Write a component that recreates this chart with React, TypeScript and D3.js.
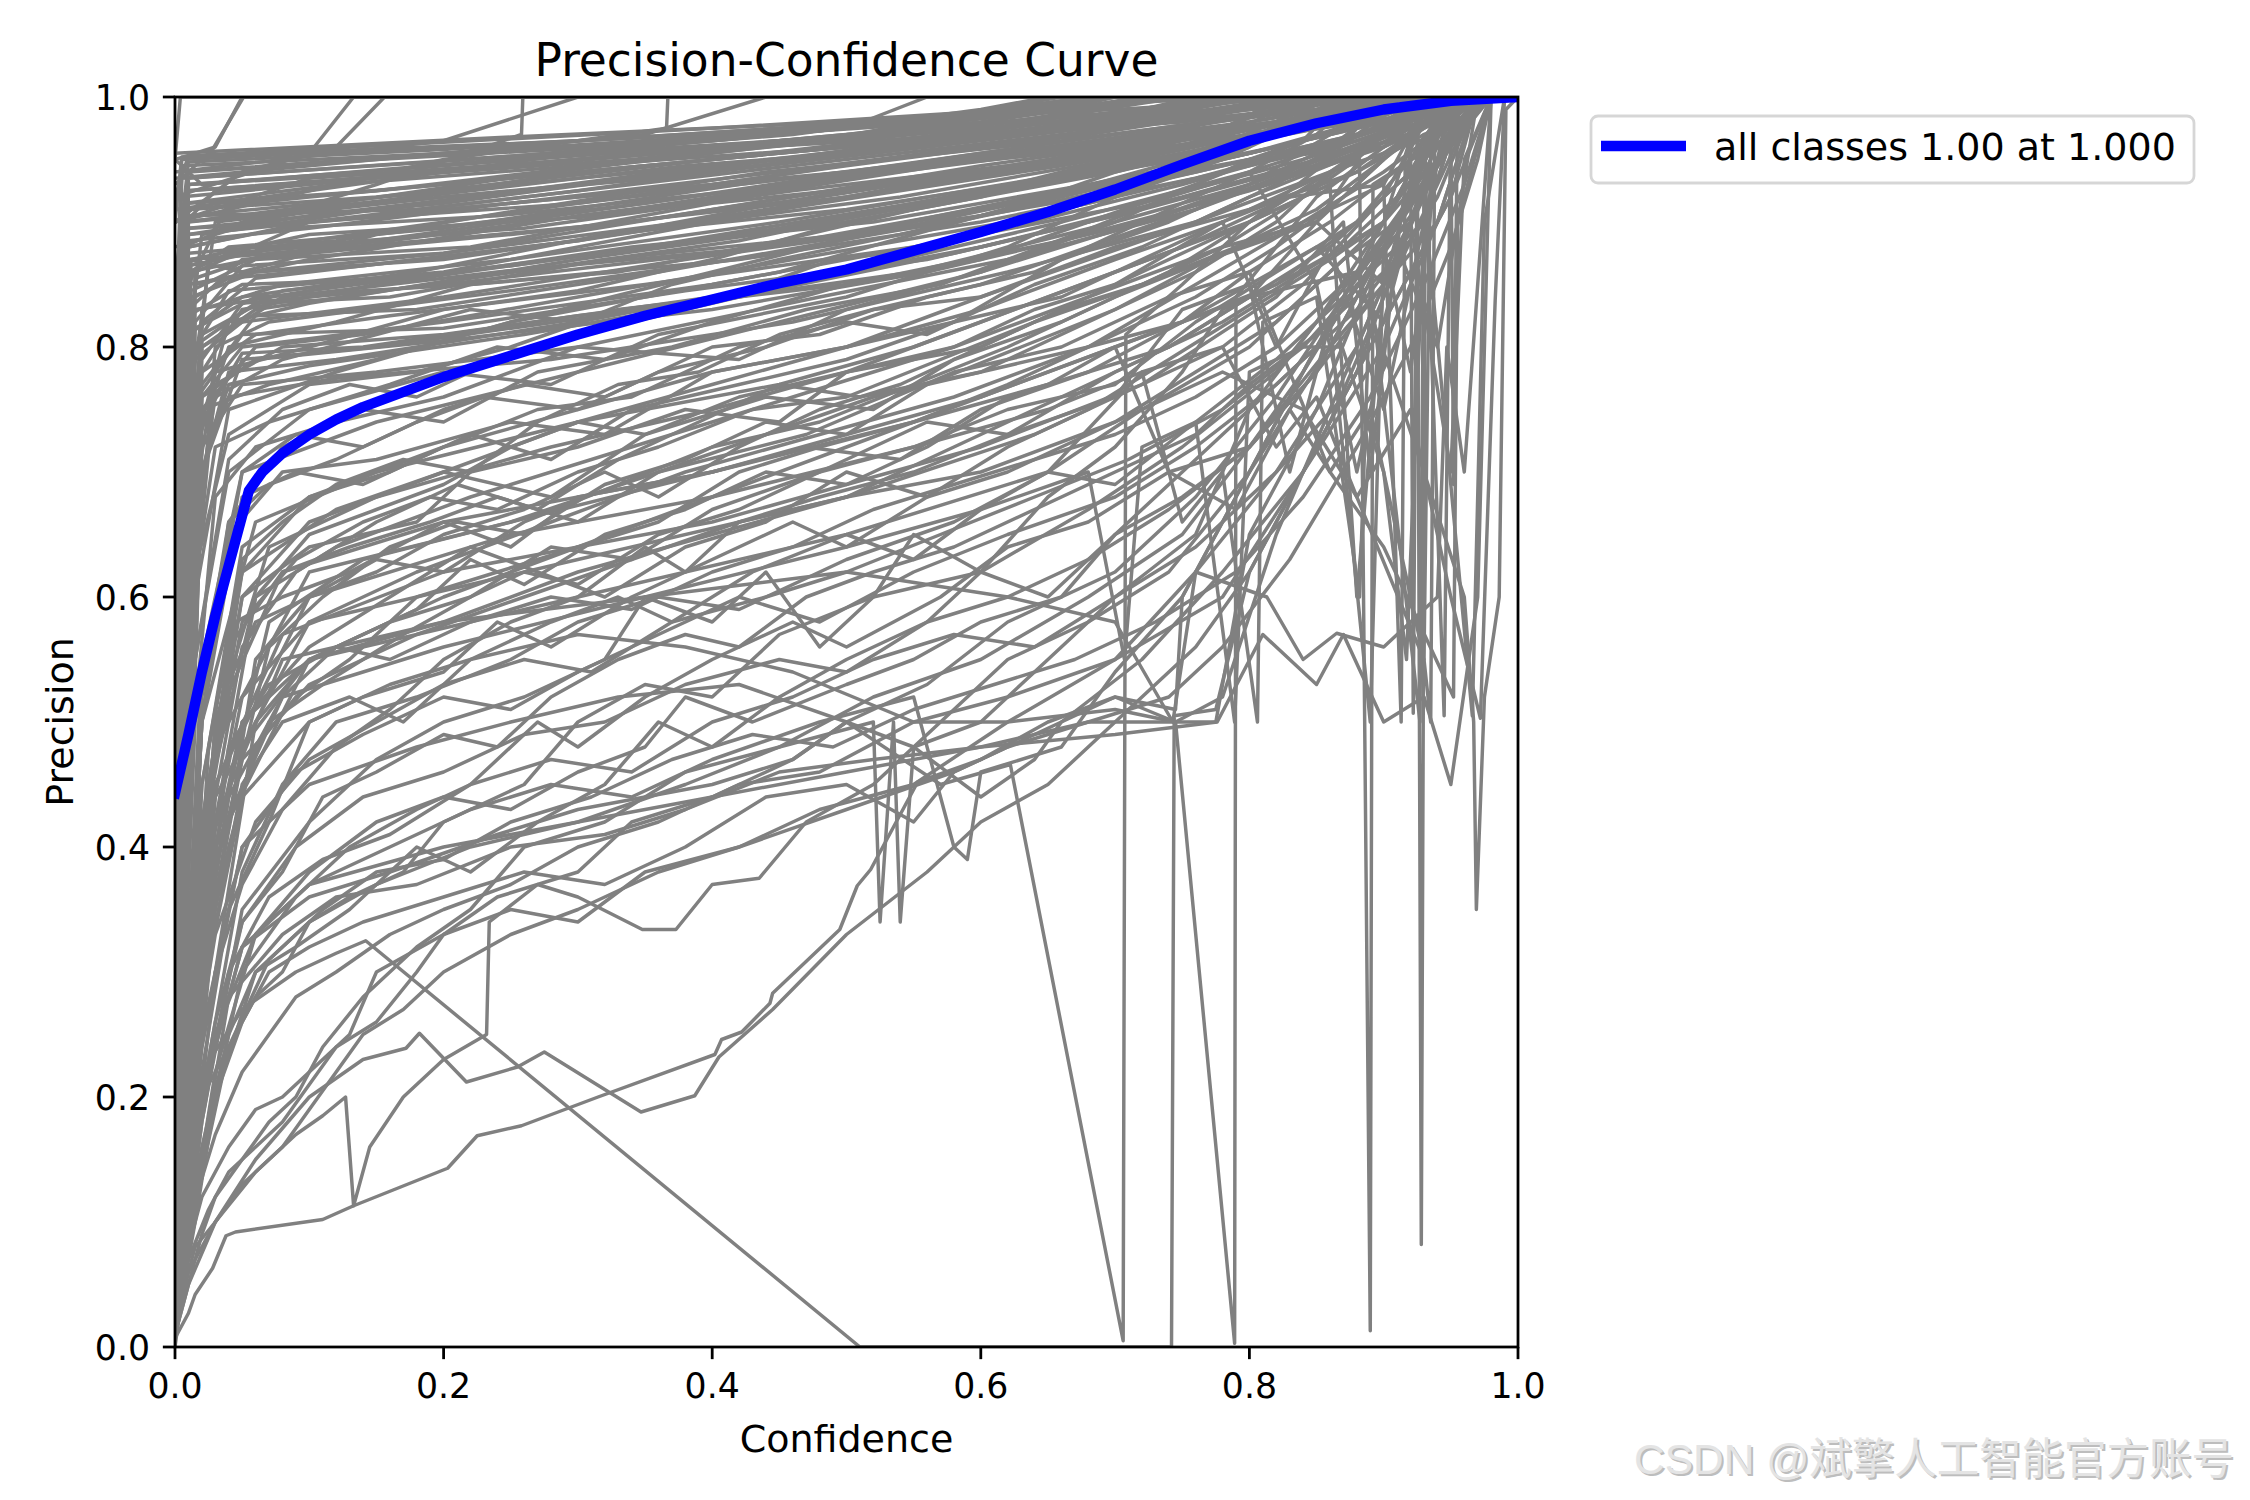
import React from 'react';
import * as d3 from 'd3';

// ---------- figure geometry ----------
const W = 2250;
const H = 1500;
const AX = { left: 175, right: 1518, top: 97, bottom: 1347 };

// ---------- tick labels ----------
const xTicks = [0, 0.2, 0.4, 0.6, 0.8, 1.0];
const yTicks = [0, 0.2, 0.4, 0.6, 0.8, 1.0];

// ---------- "all classes" mean curve (blue) ----------
const allConf = [0, 0.01, 0.02, 0.03, 0.04, 0.05, 0.055, 0.065, 0.08, 0.1, 0.12, 0.14, 0.17, 0.2, 0.25, 0.3, 0.35, 0.4, 0.45, 0.5, 0.55, 0.6, 0.65, 0.7, 0.75, 0.8, 0.85, 0.9, 0.95, 1.0];
const allPrecision = [0.443, 0.49, 0.54, 0.585, 0.625, 0.665, 0.685, 0.7, 0.715, 0.73, 0.742, 0.752, 0.764, 0.776, 0.793, 0.81, 0.825, 0.838, 0.851, 0.862, 0.877, 0.892, 0.908, 0.926, 0.946, 0.965, 0.979, 0.99, 0.997, 1.0];

// ---------- per-class curves (flat lists of conf, precision pairs) ----------
const topBundle: number[][] = [
  [0, 0.955, 0.25, 0.968, 0.5, 0.98, 0.7, 0.99, 0.85, 1, 1, 1],
  [0, 0.95, 0.02, 0.93, 0.3, 0.955, 0.6, 0.975, 0.8, 0.99, 0.9, 1, 1, 1],
  [0, 0.5, 0.008, 0.9, 0.03, 0.925, 0.35, 0.955, 0.6, 0.97, 0.85, 0.99, 0.92, 1, 1, 1],
  [0, 0.4, 0.01, 0.85, 0.04, 0.915, 0.2, 0.93, 0.5, 0.96, 0.75, 0.98, 0.9, 1, 1, 1],
  [0, 0.6, 0.006, 0.88, 0.05, 0.9, 0.3, 0.94, 0.55, 0.965, 0.8, 0.99, 0.88, 1, 1, 1],
  [0, 0.3, 0.01, 0.8, 0.02, 0.89, 0.15, 0.91, 0.4, 0.945, 0.65, 0.975, 0.82, 0.995, 0.86, 1, 1, 1],
  [0, 0.7, 0.004, 0.92, 0.1, 0.93, 0.4, 0.96, 0.6, 0.98, 0.72, 1, 1, 1],
  [0, 0.2, 0.01, 0.7, 0.025, 0.87, 0.1, 0.885, 0.3, 0.915, 0.5, 0.94, 0.7, 0.97, 0.85, 0.99, 0.93, 1, 1, 1],
  [0, 0.45, 0.01, 0.86, 0.08, 0.875, 0.25, 0.9, 0.45, 0.93, 0.7, 0.965, 0.9, 0.99, 0.95, 1, 1, 1],
  [0, 0.55, 0.012, 0.84, 0.06, 0.86, 0.2, 0.875, 0.4, 0.91, 0.6, 0.945, 0.8, 0.975, 0.9, 0.99, 0.96, 1, 1, 1],
  [0, 0.35, 0.015, 0.8, 0.04, 0.845, 0.2, 0.86, 0.4, 0.9, 0.55, 0.93, 0.75, 0.96, 0.87, 0.985, 0.9, 1, 1, 1],
  [0, 0.25, 0.02, 0.78, 0.05, 0.83, 0.15, 0.85, 0.35, 0.88, 0.55, 0.915, 0.75, 0.95, 0.85, 0.98, 0.91, 1, 1, 1],
  [0, 0.65, 0.01, 0.895, 0.2, 0.915, 0.45, 0.95, 0.62, 0.975, 0.78, 1, 1, 1],
  [0, 0.15, 0.02, 0.74, 0.04, 0.82, 0.1, 0.835, 0.3, 0.87, 0.5, 0.9, 0.7, 0.94, 0.82, 0.97, 0.95, 0.99, 0.97, 1, 1, 1],
  [0, 0.5, 0.01, 0.905, 0.3, 0.935, 0.55, 0.96, 0.7, 0.985, 0.8, 1, 1, 1],
  [0, 0.1, 0.015, 0.6, 0.03, 0.8, 0.07, 0.82, 0.25, 0.845, 0.45, 0.875, 0.65, 0.92, 0.8, 0.955, 0.9, 0.98, 0.94, 1, 1, 1],
  [0, 0.75, 0.005, 0.94, 0.2, 0.955, 0.45, 0.972, 0.65, 0.99, 0.75, 1, 1, 1],
  [0, 0.6, 0.01, 0.87, 0.05, 0.86, 0.15, 0.89, 0.35, 0.915, 0.6, 0.955, 0.8, 0.985, 0.87, 1, 1, 1],
  [0, 0.3, 0.02, 0.82, 0.06, 0.855, 0.3, 0.885, 0.5, 0.925, 0.65, 0.95, 0.78, 0.975, 0.84, 1, 1, 1],
  [0, 0.2, 0.02, 0.76, 0.05, 0.8, 0.2, 0.82, 0.4, 0.85, 0.6, 0.89, 0.75, 0.93, 0.85, 0.96, 0.95, 0.99, 0.98, 1, 1, 1],
  [0, 0.4, 0.01, 0.88, 0.1, 0.9, 0.3, 0.925, 0.5, 0.955, 0.68, 0.98, 0.76, 1, 1, 1],
  [0, 0.85, 0.01, 0.94, 0.15, 0.95, 0.4, 0.965, 0.55, 0.98, 0.68, 1, 1, 1],
  [0, 0.5, 0.015, 0.85, 0.1, 0.87, 0.3, 0.905, 0.45, 0.925, 0.6, 0.95, 0.75, 0.97, 0.92, 0.995, 0.94, 1, 1, 1],
  [0, 0.12, 0.01, 0.55, 0.03, 0.77, 0.08, 0.8, 0.2, 0.81, 0.4, 0.84, 0.6, 0.88, 0.75, 0.92, 0.85, 0.95, 0.93, 0.98, 0.97, 1, 1, 1],
  [0, 0.7, 0.01, 0.91, 0.1, 0.92, 0.35, 0.945, 0.6, 0.97, 0.77, 0.99, 0.83, 1, 1, 1],
  [0, 0.45, 0.02, 0.83, 0.08, 0.85, 0.25, 0.87, 0.45, 0.9, 0.7, 0.945, 0.85, 0.975, 0.89, 1, 1, 1],
  [0, 0.05, 0.01, 0.4, 0.02, 0.7, 0.05, 0.79, 0.15, 0.8, 0.35, 0.83, 0.55, 0.86, 0.7, 0.9, 0.8, 0.93, 0.9, 0.97, 0.95, 1, 1, 1],
  [0, 0.9, 0.1, 0.935, 0.3, 0.95, 0.5, 0.965, 0.7, 0.985, 0.82, 1, 1, 1],
  [0, 0.35, 0.012, 0.86, 0.04, 0.88, 0.2, 0.895, 0.42, 0.93, 0.65, 0.96, 0.8, 0.98, 0.9, 1, 1, 1],
  [0, 0.55, 0.008, 0.9, 0.12, 0.915, 0.28, 0.94, 0.48, 0.965, 0.58, 0.985, 0.66, 1, 1, 1],
  [0, 0.2, 0.01, 0.75, 0.03, 0.9, 0.2, 0.92, 0.4, 0.94, 0.6, 0.97, 0.75, 0.99, 0.8, 1, 1, 1],
  [0, 0.45, 0.02, 0.8, 0.06, 0.83, 0.22, 0.855, 0.42, 0.885, 0.6, 0.925, 0.76, 0.96, 0.86, 0.985, 0.9, 1, 1, 1],
  [0, 0.3, 0.01, 0.83, 0.05, 0.87, 0.25, 0.89, 0.5, 0.92, 0.7, 0.955, 0.85, 0.985, 0.92, 1, 1, 1],
  [0, 0.6, 0.01, 0.93, 0.25, 0.945, 0.5, 0.97, 0.66, 0.99, 0.7, 1, 1, 1],
  [0, 0.1, 0.02, 0.7, 0.04, 0.78, 0.12, 0.79, 0.3, 0.82, 0.5, 0.86, 0.66, 0.9, 0.8, 0.94, 0.9, 0.975, 0.96, 1, 1, 1],
  [0, 0.5, 0.01, 0.81, 0.05, 0.84, 0.18, 0.86, 0.32, 0.89, 0.5, 0.91, 0.68, 0.94, 0.82, 0.97, 0.88, 0.99, 0.9, 1, 1, 1],
  [0, 0.4, 0.01, 0.89, 0.1, 0.905, 0.3, 0.93, 0.52, 0.955, 0.7, 0.98, 0.8, 1, 1, 1],
  [0, 0.25, 0.015, 0.79, 0.05, 0.82, 0.2, 0.84, 0.38, 0.87, 0.58, 0.9, 0.76, 0.94, 0.88, 0.97, 0.93, 0.99, 0.95, 1, 1, 1],
  [0, 0.7, 0.005, 0.945, 0.3, 0.96, 0.55, 0.978, 0.7, 0.995, 0.76, 1, 1, 1],
  [0, 0.15, 0.02, 0.72, 0.05, 0.77, 0.15, 0.78, 0.3, 0.8, 0.48, 0.84, 0.62, 0.87, 0.76, 0.91, 0.86, 0.95, 0.93, 0.98, 0.97, 1, 1, 1],
];

const topBundleB: number[][] = [
  [0, 0.3, 0.01, 0.93, 0.2, 0.945, 0.45, 0.965, 0.62, 0.98, 0.74, 1, 1, 1],
  [0, 0.62, 0.01, 0.915, 0.15, 0.925, 0.35, 0.95, 0.58, 0.975, 0.72, 0.99, 0.79, 1, 1, 1],
  [0, 0.2, 0.015, 0.86, 0.1, 0.9, 0.3, 0.92, 0.55, 0.945, 0.75, 0.975, 0.88, 1, 1, 1],
  [0, 0.48, 0.01, 0.875, 0.12, 0.885, 0.26, 0.91, 0.44, 0.94, 0.66, 0.965, 0.84, 0.99, 0.87, 1, 1, 1],
  [0, 0.1, 0.02, 0.81, 0.08, 0.845, 0.25, 0.865, 0.45, 0.895, 0.65, 0.935, 0.8, 0.965, 0.9, 0.99, 0.93, 1, 1, 1],
  [0, 0.55, 0.008, 0.925, 0.2, 0.94, 0.42, 0.96, 0.6, 0.98, 0.7, 0.995, 0.73, 1, 1, 1],
  [0, 0.35, 0.012, 0.845, 0.06, 0.87, 0.22, 0.88, 0.4, 0.915, 0.58, 0.935, 0.74, 0.96, 0.86, 0.98, 0.92, 1, 1, 1],
  [0, 0.15, 0.02, 0.77, 0.06, 0.825, 0.18, 0.83, 0.36, 0.86, 0.52, 0.89, 0.68, 0.92, 0.8, 0.95, 0.9, 0.975, 0.95, 1, 1, 1],
  [0, 0.7, 0.006, 0.9, 0.18, 0.92, 0.38, 0.945, 0.56, 0.96, 0.7, 0.98, 0.81, 1, 1, 1],
  [0, 0.25, 0.015, 0.82, 0.05, 0.865, 0.2, 0.875, 0.38, 0.9, 0.56, 0.93, 0.72, 0.955, 0.85, 0.985, 0.89, 1, 1, 1],
  [0, 0.42, 0.01, 0.895, 0.1, 0.9, 0.3, 0.915, 0.5, 0.945, 0.68, 0.97, 0.8, 0.99, 0.86, 1, 1, 1],
  [0, 0.08, 0.02, 0.75, 0.06, 0.8, 0.14, 0.81, 0.3, 0.84, 0.46, 0.87, 0.62, 0.9, 0.76, 0.935, 0.88, 0.97, 0.94, 0.99, 0.97, 1, 1, 1],
  [0, 0.6, 0.01, 0.935, 0.28, 0.955, 0.46, 0.97, 0.6, 0.99, 0.65, 1, 1, 1],
  [0, 0.3, 0.01, 0.865, 0.08, 0.88, 0.26, 0.895, 0.46, 0.925, 0.62, 0.945, 0.78, 0.97, 0.88, 0.99, 0.91, 1, 1, 1],
  [0, 0.5, 0.01, 0.86, 0.04, 0.875, 0.16, 0.885, 0.34, 0.91, 0.52, 0.94, 0.7, 0.96, 0.84, 0.98, 0.9, 1, 1, 1],
  [0, 0.18, 0.02, 0.79, 0.05, 0.835, 0.2, 0.85, 0.4, 0.875, 0.6, 0.905, 0.74, 0.94, 0.86, 0.97, 0.94, 1, 1, 1],
  [0, 0.65, 0.01, 0.925, 0.14, 0.935, 0.34, 0.95, 0.52, 0.97, 0.66, 0.985, 0.75, 1, 1, 1],
  [0, 0.38, 0.012, 0.87, 0.1, 0.89, 0.32, 0.905, 0.5, 0.935, 0.72, 0.965, 0.85, 0.985, 0.9, 1, 1, 1],
  [0, 0.12, 0.02, 0.78, 0.06, 0.81, 0.16, 0.825, 0.35, 0.85, 0.55, 0.88, 0.72, 0.915, 0.84, 0.95, 0.92, 0.98, 0.96, 1, 1, 1],
  [0, 0.72, 0.005, 0.935, 0.22, 0.95, 0.5, 0.975, 0.64, 0.99, 0.7, 1, 1, 1],
  [0, 0.45, 0.01, 0.9, 0.2, 0.92, 0.36, 0.935, 0.56, 0.96, 0.72, 0.98, 0.84, 1, 1, 1],
  [0, 0.28, 0.015, 0.84, 0.04, 0.855, 0.14, 0.865, 0.3, 0.885, 0.48, 0.915, 0.66, 0.945, 0.8, 0.97, 0.9, 0.99, 0.94, 1, 1, 1],
  [0, 0.22, 0.02, 0.8, 0.08, 0.84, 0.24, 0.86, 0.44, 0.88, 0.62, 0.915, 0.78, 0.95, 0.9, 0.98, 0.95, 1, 1, 1],
  [0, 0.58, 0.01, 0.885, 0.1, 0.895, 0.25, 0.915, 0.45, 0.94, 0.63, 0.965, 0.77, 0.985, 0.83, 1, 1, 1],
  [0, 0.05, 0.02, 0.7, 0.04, 0.77, 0.1, 0.785, 0.26, 0.81, 0.42, 0.84, 0.58, 0.875, 0.72, 0.91, 0.84, 0.945, 0.92, 0.975, 0.98, 1, 1, 1],
  [0, 0.52, 0.01, 0.91, 0.15, 0.92, 0.32, 0.94, 0.48, 0.96, 0.62, 0.975, 0.76, 0.995, 0.8, 1, 1, 1],
  [0, 0.33, 0.01, 0.85, 0.06, 0.86, 0.2, 0.87, 0.36, 0.895, 0.54, 0.92, 0.7, 0.95, 0.84, 0.975, 0.92, 0.995, 0.95, 1, 1, 1],
  [0, 0.4, 0.015, 0.83, 0.1, 0.845, 0.28, 0.87, 0.46, 0.895, 0.64, 0.93, 0.78, 0.96, 0.9, 0.985, 0.93, 1, 1, 1],
  [0, 0.8, 0.005, 0.95, 0.2, 0.96, 0.4, 0.97, 0.58, 0.985, 0.68, 1, 1, 1],
  [0, 0.14, 0.02, 0.765, 0.05, 0.81, 0.2, 0.815, 0.38, 0.845, 0.56, 0.87, 0.7, 0.905, 0.82, 0.94, 0.92, 0.97, 0.97, 1, 1, 1],
  [0, 0.48, 0.01, 0.88, 0.08, 0.895, 0.24, 0.905, 0.42, 0.925, 0.6, 0.95, 0.74, 0.97, 0.86, 0.99, 0.88, 1, 1, 1],
  [0, 0.26, 0.015, 0.855, 0.07, 0.875, 0.3, 0.895, 0.48, 0.92, 0.66, 0.95, 0.82, 0.98, 0.9, 1, 1, 1],
  [0, 0.6, 0.01, 0.905, 0.18, 0.91, 0.38, 0.935, 0.54, 0.955, 0.7, 0.975, 0.82, 0.995, 0.85, 1, 1, 1],
  [0, 0.1, 0.02, 0.74, 0.05, 0.795, 0.14, 0.8, 0.3, 0.825, 0.5, 0.85, 0.66, 0.885, 0.8, 0.925, 0.9, 0.96, 0.96, 0.99, 0.98, 1, 1, 1],
  [0, 0.36, 0.01, 0.825, 0.05, 0.85, 0.18, 0.855, 0.34, 0.88, 0.52, 0.9, 0.68, 0.93, 0.82, 0.96, 0.91, 0.985, 0.94, 1, 1, 1],
  [0, 0.55, 0.01, 0.89, 0.2, 0.91, 0.4, 0.93, 0.56, 0.955, 0.68, 0.97, 0.78, 0.99, 0.82, 1, 1, 1],
  [0, 0.2, 0.02, 0.805, 0.06, 0.835, 0.16, 0.84, 0.32, 0.87, 0.5, 0.89, 0.66, 0.925, 0.8, 0.955, 0.9, 0.985, 0.93, 1, 1, 1],
  [0, 0.68, 0.008, 0.915, 0.12, 0.93, 0.3, 0.945, 0.5, 0.96, 0.64, 0.98, 0.74, 1, 1, 1],
  [0, 0.3, 0.015, 0.815, 0.06, 0.84, 0.22, 0.85, 0.42, 0.87, 0.6, 0.9, 0.76, 0.935, 0.88, 0.965, 0.96, 0.99, 0.98, 1, 1, 1],
  [0, 0.45, 0.01, 0.87, 0.14, 0.88, 0.34, 0.9, 0.52, 0.93, 0.7, 0.955, 0.84, 0.975, 0.92, 1, 1, 1],
  [0, 0.9, 0.005, 0.952, 0.3, 0.965, 0.6, 0.985, 0.75, 1, 1, 1],
  [0, 0.85, 0.01, 0.948, 0.2, 0.958, 0.45, 0.975, 0.62, 0.99, 0.7, 1, 1, 1],
  [0, 0.92, 0.01, 0.953, 0.4, 0.975, 0.7, 0.995, 0.8, 1, 1, 1],
  [0, 0.16, 0.02, 0.76, 0.06, 0.79, 0.2, 0.805, 0.4, 0.83, 0.56, 0.86, 0.72, 0.9, 0.84, 0.94, 0.93, 0.975, 0.97, 1, 1, 1],
  [0, 0.07, 0.02, 0.72, 0.04, 0.76, 0.12, 0.775, 0.28, 0.79, 0.46, 0.82, 0.62, 0.86, 0.76, 0.9, 0.86, 0.94, 0.94, 0.97, 0.98, 1, 1, 1],
];

const earlyTop: number[][] = [
  [0, 0.95, 0.03, 0.96, 0.05, 1, 1, 1],
  [0, 0.93, 0.028, 0.958, 0.051, 1, 1, 1],
  [0, 0.9, 0.05, 0.94, 0.12, 0.96, 0.156, 1, 1, 1],
  [0, 0.92, 0.1, 0.955, 0.133, 1, 1, 1],
  [0, 0.88, 0.15, 0.93, 0.258, 0.97, 0.259, 1, 1, 1],
  [0, 0.9, 0.2, 0.95, 0.366, 0.975, 0.367, 1, 1, 1],
  [0, 0.94, 0.2, 0.965, 0.3, 1, 1, 1],
  [0, 0.935, 0.35, 0.97, 0.44, 1, 1, 1],
  [0, 0.95, 0.004, 1, 1, 1],
  [0, 0.91, 0.3, 0.955, 0.5, 0.975, 0.56, 1, 1, 1],
];

const middleCurves: number[][] = [
  [0, 0.1, 0.01, 0.45, 0.03, 0.68, 0.06, 0.72, 0.12, 0.74, 0.2, 0.76, 0.3, 0.8, 0.42, 0.79, 0.5, 0.83, 0.6, 0.86, 0.7, 0.9, 0.8, 0.95, 0.88, 0.98, 0.93, 1, 1, 1],
  [0, 0.08, 0.02, 0.5, 0.04, 0.65, 0.08, 0.7, 0.15, 0.71, 0.25, 0.74, 0.32, 0.73, 0.4, 0.78, 0.5, 0.8, 0.58, 0.82, 0.66, 0.87, 0.74, 0.9, 0.8, 0.93, 0.86, 0.97, 0.9, 1, 1, 1],
  [0, 0.2, 0.01, 0.6, 0.02, 0.75, 0.07, 0.77, 0.15, 0.79, 0.25, 0.82, 0.35, 0.84, 0.45, 0.86, 0.55, 0.89, 0.65, 0.92, 0.75, 0.95, 0.82, 0.98, 0.86, 1, 1, 1],
  [0, 0.05, 0.02, 0.4, 0.05, 0.6, 0.1, 0.64, 0.18, 0.66, 0.22, 0.7, 0.3, 0.72, 0.38, 0.75, 0.45, 0.74, 0.5, 0.78, 0.6, 0.8, 0.7, 0.85, 0.78, 0.9, 0.85, 0.93, 0.9, 0.97, 0.95, 1, 1, 1],
  [0, 0.15, 0.015, 0.55, 0.04, 0.7, 0.1, 0.75, 0.2, 0.78, 0.28, 0.77, 0.36, 0.81, 0.5, 0.84, 0.62, 0.88, 0.72, 0.93, 0.8, 0.96, 0.84, 1, 1, 1],
  [0, 0.03, 0.03, 0.35, 0.06, 0.55, 0.1, 0.6, 0.15, 0.63, 0.2, 0.62, 0.26, 0.66, 0.33, 0.69, 0.4, 0.72, 0.48, 0.74, 0.55, 0.77, 0.62, 0.8, 0.7, 0.84, 0.77, 0.87, 0.85, 0.9, 0.9, 0.95, 0.96, 1, 1, 1],
  [0, 0.25, 0.01, 0.65, 0.03, 0.78, 0.1, 0.8, 0.2, 0.83, 0.3, 0.845, 0.4, 0.87, 0.5, 0.9, 0.6, 0.92, 0.7, 0.95, 0.78, 0.975, 0.83, 1, 1, 1],
  [0, 0.1, 0.02, 0.5, 0.05, 0.68, 0.09, 0.7, 0.14, 0.69, 0.2, 0.72, 0.27, 0.75, 0.34, 0.76, 0.42, 0.8, 0.5, 0.82, 0.56, 0.81, 0.64, 0.85, 0.72, 0.88, 0.8, 0.92, 0.87, 0.95, 0.92, 0.98, 0.95, 1, 1, 1],
  [0, 0.05, 0.025, 0.45, 0.05, 0.62, 0.12, 0.67, 0.2, 0.7, 0.28, 0.68, 0.35, 0.73, 0.44, 0.76, 0.52, 0.75, 0.58, 0.79, 0.66, 0.82, 0.74, 0.86, 0.8, 0.9, 0.86, 0.94, 0.91, 0.97, 0.97, 1, 1, 1],
  [0, 0.3, 0.01, 0.7, 0.04, 0.8, 0.12, 0.82, 0.22, 0.85, 0.33, 0.86, 0.45, 0.885, 0.55, 0.91, 0.66, 0.94, 0.75, 0.96, 0.8, 0.985, 0.82, 1, 1, 1],
  [0, 0.07, 0.02, 0.42, 0.045, 0.58, 0.08, 0.6, 0.13, 0.62, 0.2, 0.66, 0.25, 0.64, 0.3, 0.68, 0.4, 0.7, 0.47, 0.72, 0.54, 0.71, 0.6, 0.75, 0.68, 0.78, 0.75, 0.82, 0.82, 0.85, 0.88, 0.9, 0.92, 0.94, 0.96, 1, 1, 1],
  [0, 0.12, 0.015, 0.5, 0.04, 0.66, 0.08, 0.72, 0.14, 0.75, 0.2, 0.74, 0.27, 0.78, 0.37, 0.8, 0.47, 0.83, 0.57, 0.85, 0.67, 0.89, 0.74, 0.92, 0.8, 0.94, 0.85, 0.97, 0.88, 1, 1, 1],
  [0, 0.02, 0.03, 0.3, 0.06, 0.5, 0.1, 0.55, 0.16, 0.58, 0.22, 0.6, 0.28, 0.64, 0.34, 0.63, 0.4, 0.67, 0.48, 0.7, 0.56, 0.74, 0.62, 0.73, 0.7, 0.78, 0.78, 0.82, 0.84, 0.86, 0.9, 0.9, 0.94, 0.95, 0.98, 1, 1, 1],
  [0, 0.18, 0.01, 0.58, 0.03, 0.72, 0.07, 0.74, 0.16, 0.77, 0.24, 0.8, 0.32, 0.79, 0.4, 0.82, 0.5, 0.85, 0.6, 0.87, 0.68, 0.9, 0.76, 0.93, 0.84, 0.965, 0.87, 1, 1, 1],
  [0, 0.04, 0.02, 0.38, 0.05, 0.56, 0.09, 0.62, 0.15, 0.66, 0.21, 0.69, 0.27, 0.67, 0.33, 0.71, 0.39, 0.74, 0.45, 0.77, 0.51, 0.76, 0.6, 0.78, 0.68, 0.8, 0.76, 0.84, 0.82, 0.88, 0.87, 0.92, 0.91, 0.96, 0.94, 1, 1, 1],
  [0, 0.03, 0.02, 0.3, 0.04, 0.48, 0.07, 0.53, 0.12, 0.56, 0.18, 0.59, 0.22, 0.63, 0.26, 0.61, 0.32, 0.65, 0.38, 0.67, 0.44, 0.7, 0.5, 0.69, 0.56, 0.72, 0.62, 0.76, 0.68, 0.78, 0.74, 0.8, 0.8, 0.84, 0.86, 0.88, 0.9, 0.92, 0.94, 0.96, 0.97, 1, 1, 1],
  [0, 0.04, 0.015, 0.35, 0.035, 0.52, 0.06, 0.58, 0.1, 0.6, 0.15, 0.62, 0.2, 0.65, 0.26, 0.67, 0.32, 0.7, 0.36, 0.68, 0.42, 0.72, 0.48, 0.75, 0.54, 0.77, 0.6, 0.8, 0.66, 0.83, 0.72, 0.85, 0.78, 0.88, 0.84, 0.92, 0.88, 0.95, 0.92, 1, 1, 1],
  [0, 0.02, 0.02, 0.28, 0.05, 0.45, 0.08, 0.5, 0.13, 0.52, 0.17, 0.5, 0.22, 0.55, 0.28, 0.58, 0.33, 0.6, 0.37, 0.58, 0.43, 0.62, 0.5, 0.65, 0.55, 0.63, 0.6, 0.67, 0.65, 0.7, 0.7, 0.69, 0.76, 0.74, 0.82, 0.79, 0.87, 0.84, 0.91, 0.9, 0.95, 0.96, 0.97, 1, 1, 1],
  [0, 0.05, 0.02, 0.4, 0.04, 0.56, 0.08, 0.62, 0.13, 0.64, 0.19, 0.66, 0.24, 0.68, 0.3, 0.66, 0.36, 0.7, 0.44, 0.73, 0.52, 0.76, 0.6, 0.78, 0.68, 0.82, 0.76, 0.86, 0.82, 0.9, 0.86, 0.94, 0.9, 0.97, 0.93, 1, 1, 1],
  [0, 0.03, 0.02, 0.32, 0.05, 0.5, 0.1, 0.56, 0.16, 0.6, 0.22, 0.64, 0.27, 0.62, 0.32, 0.6, 0.38, 0.64, 0.44, 0.66, 0.5, 0.7, 0.56, 0.68, 0.62, 0.72, 0.68, 0.75, 0.74, 0.79, 0.8, 0.83, 0.86, 0.87, 0.9, 0.9, 0.93, 0.95, 0.96, 1, 1, 1],
  [0, 0.06, 0.02, 0.52, 0.05, 0.7, 0.09, 0.73, 0.14, 0.72, 0.2, 0.75, 0.26, 0.77, 0.32, 0.76, 0.4, 0.8, 0.48, 0.81, 0.56, 0.84, 0.64, 0.86, 0.72, 0.9, 0.8, 0.93, 0.86, 0.96, 0.91, 1, 1, 1],
  [0, 0.04, 0.025, 0.48, 0.05, 0.64, 0.1, 0.68, 0.16, 0.7, 0.22, 0.73, 0.28, 0.71, 0.34, 0.75, 0.42, 0.77, 0.5, 0.79, 0.58, 0.82, 0.66, 0.84, 0.74, 0.88, 0.82, 0.92, 0.88, 0.95, 0.93, 1, 1, 1],
  [0, 0.09, 0.015, 0.55, 0.04, 0.71, 0.08, 0.75, 0.13, 0.77, 0.18, 0.76, 0.24, 0.79, 0.3, 0.81, 0.38, 0.83, 0.46, 0.85, 0.54, 0.87, 0.62, 0.9, 0.7, 0.92, 0.78, 0.95, 0.84, 0.98, 0.87, 1, 1, 1],
  [0, 0.03, 0.03, 0.42, 0.06, 0.6, 0.1, 0.65, 0.15, 0.67, 0.2, 0.69, 0.25, 0.72, 0.3, 0.74, 0.35, 0.73, 0.42, 0.76, 0.5, 0.78, 0.58, 0.8, 0.64, 0.83, 0.7, 0.85, 0.76, 0.88, 0.82, 0.91, 0.88, 0.94, 0.92, 0.97, 0.96, 1, 1, 1],
  [0, 0.12, 0.01, 0.62, 0.03, 0.76, 0.08, 0.79, 0.15, 0.81, 0.22, 0.83, 0.3, 0.82, 0.37, 0.85, 0.45, 0.87, 0.54, 0.89, 0.62, 0.91, 0.7, 0.94, 0.77, 0.96, 0.82, 0.99, 0.84, 1, 1, 1],
  [0, 0.05, 0.02, 0.45, 0.05, 0.63, 0.08, 0.66, 0.12, 0.69, 0.17, 0.71, 0.22, 0.7, 0.27, 0.74, 0.33, 0.77, 0.39, 0.78, 0.45, 0.81, 0.52, 0.83, 0.6, 0.85, 0.68, 0.88, 0.76, 0.91, 0.83, 0.94, 0.9, 0.98, 0.93, 1, 1, 1],
  [0, 0.02, 0.03, 0.38, 0.07, 0.56, 0.11, 0.6, 0.16, 0.64, 0.21, 0.66, 0.26, 0.65, 0.32, 0.69, 0.38, 0.71, 0.44, 0.74, 0.5, 0.73, 0.56, 0.77, 0.63, 0.8, 0.7, 0.83, 0.77, 0.87, 0.84, 0.9, 0.9, 0.94, 0.95, 0.98, 0.97, 1, 1, 1],
  [0, 0.15, 0.01, 0.6, 0.04, 0.73, 0.1, 0.77, 0.18, 0.78, 0.25, 0.8, 0.33, 0.83, 0.41, 0.84, 0.49, 0.87, 0.57, 0.88, 0.65, 0.91, 0.72, 0.93, 0.79, 0.96, 0.85, 0.99, 0.87, 1, 1, 1],
  [0, 0.07, 0.02, 0.5, 0.04, 0.66, 0.07, 0.69, 0.12, 0.71, 0.18, 0.74, 0.23, 0.76, 0.3, 0.75, 0.36, 0.78, 0.44, 0.8, 0.52, 0.83, 0.6, 0.84, 0.68, 0.87, 0.76, 0.9, 0.82, 0.93, 0.88, 0.97, 0.92, 1, 1, 1],
  [0, 0.03, 0.02, 0.4, 0.05, 0.58, 0.09, 0.63, 0.14, 0.66, 0.19, 0.68, 0.24, 0.67, 0.3, 0.7, 0.36, 0.72, 0.43, 0.75, 0.5, 0.76, 0.57, 0.79, 0.64, 0.82, 0.72, 0.85, 0.79, 0.88, 0.85, 0.91, 0.9, 0.95, 0.95, 1, 1, 1],
];

const lowerCurves: number[][] = [
  [0, 0.02, 0.02, 0.2, 0.05, 0.38, 0.08, 0.45, 0.12, 0.5, 0.18, 0.52, 0.25, 0.55, 0.3, 0.58, 0.36, 0.6, 0.42, 0.59, 0.5, 0.63, 0.58, 0.66, 0.65, 0.7, 0.72, 0.75, 0.8, 0.8, 0.86, 0.86, 0.9, 0.9, 0.95, 1, 1, 1],
  [0, 0.01, 0.02, 0.15, 0.05, 0.3, 0.09, 0.36, 0.13, 0.4, 0.18, 0.43, 0.22, 0.45, 0.27, 0.5, 0.3, 0.48, 0.35, 0.52, 0.4, 0.55, 0.46, 0.58, 0.5, 0.56, 0.57, 0.6, 0.62, 0.64, 0.68, 0.66, 0.74, 0.7, 0.8, 0.72, 0.84, 0.78, 0.88, 0.85, 0.93, 0.9, 0.96, 1, 1, 1],
  [0, 0.03, 0.015, 0.25, 0.04, 0.42, 0.07, 0.5, 0.11, 0.53, 0.17, 0.57, 0.22, 0.6, 0.26, 0.62, 0.3, 0.61, 0.36, 0.65, 0.42, 0.67, 0.48, 0.7, 0.55, 0.72, 0.62, 0.75, 0.7, 0.77, 0.76, 0.82, 0.82, 0.86, 0.88, 0.9, 0.92, 0.95, 0.95, 1, 1, 1],
  [0, 0.01, 0.02, 0.18, 0.05, 0.35, 0.1, 0.42, 0.15, 0.47, 0.2, 0.5, 0.26, 0.52, 0.32, 0.55, 0.35, 0.6, 0.4, 0.58, 0.44, 0.62, 0.48, 0.56, 0.52, 0.6, 0.55, 0.65, 0.6, 0.62, 0.65, 0.68, 0.7, 0.72, 0.75, 0.78, 0.78, 0.83, 0.82, 0.85, 0.87, 0.88, 0.92, 0.93, 0.95, 1, 1, 1],
  [0, 0.02, 0.01, 0.12, 0.03, 0.25, 0.06, 0.33, 0.1, 0.38, 0.15, 0.42, 0.2, 0.44, 0.25, 0.43, 0.3, 0.46, 0.35, 0.48, 0.38, 0.52, 0.43, 0.5, 0.5, 0.53, 0.55, 0.55, 0.6, 0.58, 0.66, 0.6, 0.7, 0.65, 0.75, 0.7, 0.8, 0.75, 0.85, 0.8, 0.9, 0.88, 0.93, 0.94, 0.96, 1, 1, 1],
  [0, 0.02, 0.02, 0.15, 0.04, 0.28, 0.08, 0.33, 0.12, 0.36, 0.18, 0.37, 0.25, 0.4, 0.32, 0.41, 0.38, 0.43, 0.45, 0.46, 0.52, 0.47, 0.6, 0.48, 0.68, 0.5, 0.745, 0.5, 0.775, 0.5, 0.8, 0.65, 0.85, 0.75, 0.9, 0.88, 0.95, 0.96, 0.98, 1, 1, 1],
  [0, 0.03, 0.02, 0.2, 0.05, 0.32, 0.1, 0.36, 0.16, 0.38, 0.24, 0.41, 0.3, 0.43, 0.4, 0.45, 0.46, 0.47, 0.5, 0.5, 0.55, 0.48, 0.6, 0.44, 0.64, 0.47, 0.66, 0.5, 0.7, 0.52, 0.745, 0.51, 0.75, 0.6, 0.8, 0.7, 0.85, 0.8, 0.9, 0.9, 0.93, 1, 1, 1],
  [0, 0.01, 0.03, 0.2, 0.06, 0.3, 0.1, 0.34, 0.15, 0.37, 0.22, 0.4, 0.3, 0.42, 0.38, 0.45, 0.45, 0.48, 0.52, 0.5, 0.525, 0.34, 0.535, 0.5, 0.54, 0.34, 0.55, 0.48, 0.6, 0.5, 0.65, 0.55, 0.7, 0.6, 0.76, 0.65, 0.8, 0.75, 0.85, 0.82, 0.9, 0.9, 0.95, 1, 1, 1],
  [0, 0.02, 0.03, 0.22, 0.06, 0.33, 0.1, 0.37, 0.16, 0.4, 0.22, 0.43, 0.28, 0.45, 0.34, 0.44, 0.4, 0.47, 0.48, 0.5, 0.55, 0.52, 0.58, 0.4, 0.59, 0.39, 0.6, 0.46, 0.66, 0.48, 0.7, 0.54, 0.75, 0.6, 0.8, 0.7, 0.86, 0.8, 0.9, 0.85, 0.94, 0.9, 0.97, 1, 1, 1],
  [0, 0.05, 0.01, 0.15, 0.02, 0.2, 0.04, 0.24, 0.06, 0.28, 0.08, 0.3, 0.1, 0.34, 0.13, 0.36, 0.17, 0.38, 0.2, 0.42, 0.26, 0.45, 0.3, 0.5, 0.35, 0.53, 0.4, 0.52, 0.45, 0.57, 0.52, 0.6, 0.6, 0.62, 0.68, 0.67, 0.75, 0.72, 0.82, 0.78, 0.88, 0.86, 0.92, 0.92, 0.95, 1, 1, 1],
  [0, 0.02, 0.01, 0.1, 0.03, 0.17, 0.05, 0.22, 0.07, 0.25, 0.09, 0.28, 0.12, 0.3, 0.16, 0.33, 0.2, 0.35, 0.25, 0.37, 0.3, 0.4, 0.36, 0.42, 0.42, 0.45, 0.48, 0.46, 0.55, 0.5, 0.62, 0.52, 0.7, 0.55, 0.78, 0.6, 0.84, 0.7, 0.88, 0.78, 0.92, 0.86, 0.95, 0.92, 0.97, 1, 1, 1],
  [0, 0.01, 0.01, 0.08, 0.02, 0.12, 0.04, 0.16, 0.06, 0.19, 0.08, 0.2, 0.1, 0.22, 0.13, 0.25, 0.15, 0.3, 0.2, 0.33, 0.25, 0.35, 0.3, 0.34, 0.35, 0.38, 0.42, 0.4, 0.5, 0.43, 0.58, 0.46, 0.66, 0.5, 0.72, 0.55, 0.78, 0.62, 0.84, 0.7, 0.9, 0.8, 0.94, 0.9, 0.97, 1, 1, 1],
  [0, 0.04, 0.01, 0.18, 0.03, 0.3, 0.05, 0.37, 0.08, 0.43, 0.12, 0.48, 0.16, 0.51, 0.2, 0.55, 0.25, 0.58, 0.3, 0.6, 0.35, 0.64, 0.38, 0.62, 0.42, 0.66, 0.48, 0.68, 0.55, 0.7, 0.62, 0.73, 0.7, 0.76, 0.78, 0.8, 0.84, 0.85, 0.9, 0.92, 0.94, 1, 1, 1],
  [0, 0.02, 0.02, 0.22, 0.04, 0.35, 0.07, 0.42, 0.1, 0.5, 0.14, 0.52, 0.2, 0.54, 0.24, 0.58, 0.28, 0.56, 0.34, 0.6, 0.4, 0.63, 0.46, 0.66, 0.5, 0.64, 0.56, 0.68, 0.62, 0.7, 0.7, 0.74, 0.76, 0.78, 0.82, 0.82, 0.87, 0.87, 0.91, 0.9, 0.94, 0.95, 0.96, 1, 1, 1],
  [0, 0.03, 0.02, 0.16, 0.04, 0.25, 0.06, 0.3, 0.09, 0.32, 0.13, 0.35, 0.18, 0.4, 0.22, 0.38, 0.27, 0.42, 0.32, 0.45, 0.36, 0.5, 0.4, 0.48, 0.45, 0.52, 0.5, 0.55, 0.56, 0.58, 0.6, 0.62, 0.65, 0.6, 0.7, 0.65, 0.75, 0.68, 0.8, 0.72, 0.85, 0.78, 0.88, 0.84, 0.91, 0.9, 0.95, 1, 1, 1],
  [0, 0.06, 0.01, 0.2, 0.02, 0.3, 0.04, 0.4, 0.06, 0.48, 0.09, 0.52, 0.13, 0.55, 0.18, 0.6, 0.24, 0.62, 0.3, 0.64, 0.36, 0.66, 0.42, 0.7, 0.48, 0.72, 0.55, 0.74, 0.62, 0.77, 0.68, 0.8, 0.75, 0.82, 0.8, 0.86, 0.86, 0.9, 0.92, 0.95, 0.95, 1, 1, 1],
  [0, 0.01, 0.015, 0.1, 0.03, 0.2, 0.05, 0.26, 0.07, 0.3, 0.1, 0.32, 0.14, 0.34, 0.2, 0.36, 0.26, 0.38, 0.32, 0.37, 0.38, 0.4, 0.44, 0.44, 0.5, 0.45, 0.55, 0.42, 0.58, 0.46, 0.62, 0.48, 0.68, 0.5, 0.74, 0.52, 0.78, 0.56, 0.83, 0.63, 0.88, 0.72, 0.92, 0.8, 0.95, 0.88, 0.97, 0.95, 0.98, 1, 1, 1],
  [0, 0.02, 0.01, 0.14, 0.03, 0.26, 0.05, 0.34, 0.08, 0.38, 0.11, 0.44, 0.15, 0.46, 0.2, 0.49, 0.24, 0.48, 0.28, 0.52, 0.33, 0.55, 0.38, 0.57, 0.42, 0.56, 0.47, 0.6, 0.52, 0.62, 0.58, 0.64, 0.64, 0.67, 0.7, 0.7, 0.76, 0.73, 0.8, 0.77, 0.85, 0.81, 0.9, 0.86, 0.93, 0.92, 0.96, 1, 1, 1],
  [0, 0.01, 0.01, 0.05, 0.02, 0.09, 0.03, 0.12, 0.05, 0.15, 0.07, 0.18, 0.09, 0.2, 0.11, 0.24, 0.14, 0.28, 0.18, 0.32, 0.22, 0.35, 0.26, 0.4, 0.32, 0.42, 0.38, 0.46, 0.45, 0.48, 0.52, 0.52, 0.6, 0.55, 0.68, 0.6, 0.75, 0.65, 0.8, 0.72, 0.86, 0.8, 0.9, 0.88, 0.94, 0.95, 0.96, 1, 1, 1],
  [0, 0.02, 0.01, 0.07, 0.025, 0.11, 0.04, 0.14, 0.06, 0.16, 0.08, 0.18, 0.1, 0.21, 0.12, 0.24, 0.15, 0.26, 0.18, 0.3, 0.2, 0.33, 0.24, 0.36, 0.3, 0.38, 0.34, 0.42, 0.4, 0.44, 0.46, 0.47, 0.5, 0.5, 0.56, 0.53, 0.62, 0.58, 0.7, 0.62, 0.76, 0.68, 0.82, 0.76, 0.87, 0.84, 0.92, 0.92, 0.95, 1, 1, 1],
  [0, 0, 0.005, 0.04, 0.015, 0.08, 0.03, 0.1, 0.05, 0.13, 0.08, 0.16, 0.1, 0.19, 0.12, 0.22, 0.14, 0.25, 0.17, 0.27, 0.2, 0.3, 0.25, 0.33, 0.3, 0.35, 0.36, 0.38, 0.42, 0.4, 0.48, 0.43, 0.55, 0.45, 0.62, 0.5, 0.7, 0.55, 0.76, 0.62, 0.82, 0.7, 0.88, 0.8, 0.92, 0.9, 0.95, 1, 1, 1],
  [0, 0.02, 0.02, 0.2, 0.05, 0.32, 0.1, 0.37, 0.2, 0.4, 0.3, 0.42, 0.4, 0.44, 0.5, 0.46, 0.6, 0.48, 0.7, 0.49, 0.776, 0.5, 0.81, 0.57, 0.85, 0.53, 0.87, 0.57, 0.9, 0.5, 0.93, 0.52, 0.95, 0.45, 0.97, 0.6, 0.98, 1, 1, 1],
  [0, 0.02, 0.02, 0.24, 0.05, 0.4, 0.09, 0.46, 0.14, 0.49, 0.2, 0.52, 0.25, 0.51, 0.3, 0.54, 0.36, 0.57, 0.42, 0.6, 0.48, 0.58, 0.55, 0.62, 0.62, 0.65, 0.7, 0.68, 0.76, 0.72, 0.82, 0.77, 0.88, 0.83, 0.93, 0.9, 0.96, 1, 1, 1],
  [0, 0.01, 0.02, 0.2, 0.05, 0.34, 0.09, 0.4, 0.14, 0.44, 0.2, 0.46, 0.26, 0.49, 0.32, 0.5, 0.38, 0.53, 0.45, 0.55, 0.5, 0.54, 0.56, 0.58, 0.62, 0.6, 0.68, 0.63, 0.74, 0.67, 0.8, 0.72, 0.85, 0.78, 0.9, 0.85, 0.94, 0.92, 0.97, 1, 1, 1],
  [0, 0.03, 0.015, 0.27, 0.04, 0.44, 0.08, 0.52, 0.12, 0.56, 0.16, 0.55, 0.22, 0.58, 0.28, 0.6, 0.34, 0.59, 0.4, 0.62, 0.46, 0.64, 0.52, 0.67, 0.58, 0.69, 0.64, 0.71, 0.7, 0.73, 0.76, 0.76, 0.82, 0.8, 0.87, 0.85, 0.92, 0.9, 0.95, 1, 1, 1],
  [0, 0.02, 0.02, 0.18, 0.04, 0.3, 0.07, 0.36, 0.11, 0.39, 0.16, 0.41, 0.22, 0.45, 0.28, 0.47, 0.34, 0.46, 0.4, 0.5, 0.46, 0.52, 0.52, 0.55, 0.58, 0.57, 0.64, 0.56, 0.7, 0.6, 0.76, 0.64, 0.82, 0.7, 0.87, 0.76, 0.91, 0.84, 0.95, 0.92, 0.98, 1, 1, 1],
  [0, 0.04, 0.01, 0.2, 0.03, 0.33, 0.06, 0.42, 0.1, 0.47, 0.15, 0.5, 0.2, 0.53, 0.26, 0.55, 0.31, 0.54, 0.37, 0.58, 0.44, 0.6, 0.5, 0.62, 0.57, 0.65, 0.64, 0.68, 0.71, 0.71, 0.78, 0.75, 0.84, 0.8, 0.89, 0.86, 0.93, 0.92, 0.96, 1, 1, 1],
  [0, 0.01, 0.02, 0.14, 0.04, 0.24, 0.07, 0.31, 0.11, 0.35, 0.15, 0.38, 0.2, 0.39, 0.25, 0.42, 0.31, 0.44, 0.37, 0.47, 0.43, 0.49, 0.49, 0.48, 0.55, 0.51, 0.61, 0.53, 0.67, 0.55, 0.73, 0.58, 0.79, 0.62, 0.84, 0.68, 0.89, 0.76, 0.93, 0.85, 0.96, 0.93, 0.98, 1, 1, 1],
];

// curves with sharp drops / long diagonals
const dropCurves: number[][] = [
  [0, 0.02, 0.005, 0.12, 0.02, 0.22, 0.05, 0.27, 0.09, 0.3, 0.12, 0.315, 0.142, 0.325, 0.51, 0.0, 0.742, 0.0, 0.744, 0.505, 0.775, 0.51, 0.8, 0.62, 0.84, 0.7, 0.88, 0.78, 0.92, 0.9, 0.95, 0.97, 0.97, 1, 1, 1],
  [0, 0.007, 0.01, 0.027, 0.015, 0.042, 0.028, 0.063, 0.038, 0.089, 0.045, 0.092, 0.11, 0.102, 0.133, 0.113, 0.168, 0.128, 0.203, 0.143, 0.225, 0.169, 0.258, 0.177, 0.315, 0.2, 0.402, 0.234, 0.407, 0.246, 0.422, 0.252, 0.443, 0.275, 0.445, 0.283, 0.495, 0.334, 0.508, 0.369, 0.518, 0.382, 0.553, 0.452, 0.6, 0.47, 0.65, 0.5, 0.7, 0.52, 0.745, 0.5, 0.78, 0.52, 0.82, 0.65, 0.86, 0.75, 0.9, 0.85, 0.94, 0.95, 0.96, 1, 1, 1],
  [0, 0.01, 0.01, 0.05, 0.03, 0.1, 0.06, 0.14, 0.09, 0.17, 0.11, 0.185, 0.127, 0.2, 0.133, 0.113, 0.145, 0.16, 0.17, 0.2, 0.2, 0.23, 0.232, 0.25, 0.234, 0.34, 0.27, 0.37, 0.3, 0.36, 0.348, 0.334, 0.373, 0.334, 0.4, 0.37, 0.435, 0.375, 0.47, 0.42, 0.52, 0.45, 0.57, 0.5, 0.62, 0.55, 0.68, 0.58, 0.74, 0.62, 0.8, 0.7, 0.85, 0.8, 0.9, 0.88, 0.94, 0.95, 0.97, 1, 1, 1],
  [0, 0.01, 0.01, 0.06, 0.03, 0.1, 0.06, 0.15, 0.1, 0.2, 0.14, 0.23, 0.172, 0.239, 0.182, 0.251, 0.217, 0.212, 0.255, 0.224, 0.275, 0.236, 0.347, 0.188, 0.387, 0.201, 0.405, 0.232, 0.445, 0.27, 0.5, 0.33, 0.56, 0.38, 0.6, 0.42, 0.65, 0.45, 0.7, 0.5, 0.76, 0.56, 0.8, 0.62, 0.86, 0.74, 0.9, 0.84, 0.94, 0.93, 0.97, 1, 1, 1],
  [0, 0.02, 0.02, 0.25, 0.05, 0.4, 0.1, 0.45, 0.18, 0.48, 0.25, 0.5, 0.33, 0.52, 0.42, 0.53, 0.5, 0.5, 0.57, 0.45, 0.622, 0.466, 0.706, 0.005, 0.708, 0.81, 0.75, 0.85, 0.8, 0.9, 0.86, 0.95, 0.9, 1, 1, 1],
  [0, 0.03, 0.02, 0.28, 0.05, 0.44, 0.1, 0.5, 0.16, 0.53, 0.22, 0.55, 0.3, 0.57, 0.38, 0.56, 0.46, 0.54, 0.55, 0.5, 0.62, 0.5, 0.7, 0.51, 0.745, 0.5, 0.789, 0.003, 0.79, 0.84, 0.85, 0.92, 0.9, 0.96, 0.95, 1, 1, 1],
  [0, 0.02, 0.02, 0.3, 0.05, 0.47, 0.1, 0.53, 0.18, 0.57, 0.26, 0.6, 0.34, 0.63, 0.42, 0.66, 0.5, 0.68, 0.58, 0.72, 0.66, 0.76, 0.74, 0.8, 0.8, 0.84, 0.85, 0.9, 0.882, 0.95, 0.89, 0.013, 0.892, 0.93, 0.95, 0.97, 0.98, 1, 1, 1],
  [0, 0.03, 0.02, 0.36, 0.05, 0.52, 0.1, 0.58, 0.18, 0.62, 0.28, 0.66, 0.38, 0.7, 0.48, 0.73, 0.58, 0.76, 0.68, 0.8, 0.76, 0.85, 0.84, 0.9, 0.9, 0.93, 0.925, 0.98, 0.928, 0.082, 0.931, 0.96, 0.96, 1, 1, 1],
  [0, 0.02, 0.02, 0.3, 0.05, 0.48, 0.1, 0.55, 0.2, 0.6, 0.3, 0.64, 0.4, 0.68, 0.5, 0.72, 0.6, 0.76, 0.7, 0.8, 0.8, 0.84, 0.88, 0.86, 0.93, 0.7, 0.96, 0.6, 0.967, 0.5, 0.969, 0.35, 0.975, 0.52, 0.986, 0.6, 0.991, 0.99, 1, 1],
  [0, 0.04, 0.02, 0.42, 0.05, 0.6, 0.1, 0.66, 0.2, 0.7, 0.3, 0.74, 0.4, 0.77, 0.5, 0.8, 0.6, 0.84, 0.7, 0.88, 0.8, 0.91, 0.88, 0.94, 0.93, 0.97, 0.95, 0.98, 0.952, 0.69, 0.955, 1, 1, 1],
  [0, 0.03, 0.02, 0.35, 0.05, 0.5, 0.1, 0.55, 0.2, 0.58, 0.3, 0.62, 0.4, 0.65, 0.5, 0.68, 0.6, 0.7, 0.7, 0.74, 0.78, 0.78, 0.84, 0.75, 0.88, 0.68, 0.93, 0.55, 0.935, 0.5, 0.938, 0.97, 0.96, 1, 1, 1],
];

// curves that turn noisy at high confidence
const noisyEnds: number[][] = [
  [0, 0.05, 0.02, 0.45, 0.05, 0.62, 0.1, 0.68, 0.2, 0.72, 0.3, 0.75, 0.4, 0.78, 0.5, 0.8, 0.6, 0.83, 0.7, 0.87, 0.78, 0.9, 0.82, 0.8, 0.86, 0.88, 0.9, 0.75, 0.93, 0.9, 0.95, 1, 1, 1],
  [0, 0.1, 0.02, 0.55, 0.05, 0.7, 0.15, 0.74, 0.3, 0.78, 0.45, 0.82, 0.6, 0.86, 0.72, 0.9, 0.8, 0.94, 0.85, 0.85, 0.88, 0.7, 0.9, 0.8, 0.92, 0.96, 0.94, 1, 1, 1],
  [0, 0.08, 0.02, 0.5, 0.06, 0.66, 0.15, 0.7, 0.3, 0.74, 0.45, 0.77, 0.55, 0.8, 0.65, 0.84, 0.75, 0.88, 0.83, 0.92, 0.9, 0.93, 0.913, 0.5, 0.916, 0.95, 0.94, 1, 1, 1],
  [0, 0.06, 0.03, 0.5, 0.07, 0.64, 0.15, 0.68, 0.28, 0.72, 0.4, 0.75, 0.5, 0.78, 0.6, 0.82, 0.7, 0.86, 0.8, 0.9, 0.86, 0.93, 0.88, 0.6, 0.9, 0.85, 0.93, 0.97, 0.945, 0.505, 0.95, 1, 1, 1],
  [0, 0.04, 0.02, 0.42, 0.06, 0.6, 0.12, 0.64, 0.22, 0.68, 0.34, 0.72, 0.46, 0.76, 0.58, 0.8, 0.68, 0.84, 0.78, 0.88, 0.85, 0.9, 0.9, 0.85, 0.93, 0.92, 0.966, 0.505, 0.975, 0.9, 0.99, 1, 1, 1],
  [0, 0.03, 0.03, 0.4, 0.07, 0.58, 0.14, 0.63, 0.25, 0.66, 0.36, 0.7, 0.47, 0.73, 0.58, 0.78, 0.66, 0.8, 0.74, 0.84, 0.8, 0.86, 0.86, 0.7, 0.89, 0.75, 0.93, 0.55, 0.935, 0.96, 0.96, 1, 1, 1],
  [0, 0.1, 0.015, 0.6, 0.04, 0.75, 0.12, 0.78, 0.25, 0.82, 0.4, 0.86, 0.55, 0.9, 0.7, 0.93, 0.8, 0.95, 0.9, 0.96, 0.92, 0.97, 0.922, 0.507, 0.925, 0.98, 0.94, 1, 1, 1],
  [0, 0.05, 0.03, 0.5, 0.08, 0.62, 0.2, 0.66, 0.4, 0.7, 0.6, 0.76, 0.75, 0.82, 0.85, 0.88, 0.9, 0.82, 0.92, 0.9, 0.95, 0.7, 0.96, 0.95, 0.98, 1, 1, 1],
  [0, 0.03, 0.03, 0.45, 0.08, 0.57, 0.2, 0.62, 0.4, 0.66, 0.6, 0.72, 0.72, 0.77, 0.82, 0.84, 0.87, 0.9, 0.89, 0.7, 0.91, 0.88, 0.94, 0.8, 0.97, 1, 1, 1],
];

// curves with repeated spikes in the high-confidence zone
const spikyEnds: number[][] = [
  [0, 0.02, 0.03, 0.4, 0.08, 0.52, 0.2, 0.56, 0.35, 0.6, 0.5, 0.64, 0.6, 0.67, 0.68, 0.7, 0.707, 0.55, 0.72, 0.72, 0.76, 0.74, 0.789, 0.5, 0.8, 0.78, 0.84, 0.8, 0.869, 0.8, 0.9, 0.7, 0.917, 0.55, 0.93, 0.9, 0.96, 1, 1, 1],
  [0, 0.03, 0.03, 0.42, 0.08, 0.55, 0.2, 0.58, 0.35, 0.6, 0.5, 0.62, 0.62, 0.6, 0.7, 0.58, 0.743, 0.5, 0.76, 0.62, 0.813, 0.6, 0.84, 0.55, 0.865, 0.571, 0.9, 0.56, 0.94, 0.6, 0.947, 0.8, 0.96, 0.7, 0.98, 1, 1, 1],
  [0, 0.02, 0.03, 0.45, 0.1, 0.6, 0.25, 0.65, 0.4, 0.68, 0.55, 0.72, 0.65, 0.75, 0.72, 0.78, 0.75, 0.66, 0.78, 0.7, 0.806, 0.5, 0.81, 0.82, 0.85, 0.84, 0.882, 0.6, 0.89, 0.85, 0.927, 0.5, 0.93, 0.93, 0.97, 1, 1, 1],
  [0, 0.04, 0.03, 0.48, 0.1, 0.62, 0.25, 0.66, 0.4, 0.7, 0.55, 0.74, 0.65, 0.77, 0.7, 0.8, 0.74, 0.7, 0.79, 0.67, 0.83, 0.75, 0.86, 0.7, 0.9, 0.64, 0.952, 0.52, 0.955, 0.9, 0.98, 1, 1, 1],
  [0, 0.02, 0.03, 0.4, 0.1, 0.55, 0.3, 0.6, 0.5, 0.65, 0.65, 0.7, 0.72, 0.78, 0.78, 0.8, 0.82, 0.72, 0.85, 0.76, 0.88, 0.68, 0.92, 0.75, 0.95, 0.6, 0.972, 0.503, 0.983, 0.837, 0.99, 1, 1, 1],
  [0, 0.03, 0.03, 0.44, 0.1, 0.58, 0.3, 0.63, 0.5, 0.68, 0.64, 0.73, 0.7, 0.76, 0.75, 0.83, 0.8, 0.85, 0.83, 0.7, 0.86, 0.82, 0.89, 0.5, 0.9, 0.88, 0.92, 0.78, 0.94, 0.95, 0.96, 1, 1, 1],
];

const classCurves: number[][] = [
  ...lowerCurves,
  ...dropCurves,
  ...noisyEnds,
  ...spikyEnds,
  ...middleCurves,
  ...topBundle,
  ...topBundleB,
  ...earlyTop,
];

function toPairs(flat: number[]): [number, number][] {
  const out: [number, number][] = [];
  for (let i = 0; i + 1 < flat.length; i += 2) out.push([flat[i], flat[i + 1]]);
  return out;
}

const FONT = 'DejaVu Sans, Liberation Sans, sans-serif';
const TICK_FS = 34.7;
const LABEL_FS = 38;
const TITLE_FS = 45.5;
const WM_FONT = 'Liberation Sans Narrow, Liberation Sans, Noto Sans CJK SC, sans-serif';

export default function App() {
  const x = d3.scaleLinear().domain([0, 1]).range([AX.left, AX.right]);
  const y = d3.scaleLinear().domain([0, 1]).range([AX.bottom, AX.top]);
  const line = d3
    .line<[number, number]>()
    .x((d) => x(d[0]))
    .y((d) => y(d[1]));
  const bluePts: [number, number][] = allConf.map((c, i) => [c, allPrecision[i]]);
  const tickLen = 12.15;
  const cx = (AX.left + AX.right) / 2;
  const cy = (AX.top + AX.bottom) / 2;

  return (
    <svg
      width={W}
      height={H}
      viewBox={`0 0 ${W} ${H}`}
      style={{ position: 'absolute', left: 0, top: 0, display: 'block', background: '#ffffff' }}
      fontFamily={FONT}
    >
      <rect x={0} y={0} width={W} height={H} fill="#ffffff" />
      <defs>
        <clipPath id="plotClip">
          <rect x={AX.left} y={AX.top} width={AX.right - AX.left} height={AX.bottom - AX.top} />
        </clipPath>
      </defs>

      <g clipPath="url(#plotClip)">
        {classCurves.map((c, i) => (
          <path
            key={i}
            d={line(toPairs(c)) || ''}
            fill="none"
            stroke="#808080"
            strokeWidth={3.47}
            strokeLinejoin="round"
            strokeLinecap="square"
          />
        ))}
        <path
          d={line(bluePts) || ''}
          fill="none"
          stroke="#0000ff"
          strokeWidth={10.4}
          strokeLinejoin="round"
          strokeLinecap="square"
        />
      </g>

      {/* spines */}
      <rect
        x={AX.left}
        y={AX.top}
        width={AX.right - AX.left}
        height={AX.bottom - AX.top}
        fill="none"
        stroke="#000"
        strokeWidth={2.78}
      />

      {/* x ticks */}
      {xTicks.map((t) => (
        <g key={'x' + t}>
          <line x1={x(t)} x2={x(t)} y1={AX.bottom} y2={AX.bottom + tickLen} stroke="#000" strokeWidth={2.78} />
          <text x={x(t)} y={1398} fontSize={TICK_FS} textAnchor="middle" fill="#000">
            {t.toFixed(1)}
          </text>
        </g>
      ))}

      {/* y ticks */}
      {yTicks.map((t) => (
        <g key={'y' + t}>
          <line x1={AX.left - tickLen} x2={AX.left} y1={y(t)} y2={y(t)} stroke="#000" strokeWidth={2.78} />
          <text x={150} y={y(t) + 13} fontSize={TICK_FS} textAnchor="end" fill="#000">
            {t.toFixed(1)}
          </text>
        </g>
      ))}

      {/* axis labels */}
      <text x={cx} y={1452} fontSize={LABEL_FS} textAnchor="middle" fill="#000">
        Confidence
      </text>
      <text
        x={0}
        y={0}
        fontSize={LABEL_FS}
        textAnchor="middle"
        fill="#000"
        transform={`translate(73, ${cy}) rotate(-90)`}
      >
        Precision
      </text>

      {/* title */}
      <text x={cx} y={76} fontSize={TITLE_FS} textAnchor="middle" fill="#000">
        Precision-Confidence Curve
      </text>

      {/* legend */}
      <rect
        x={1591}
        y={116}
        width={603}
        height={67}
        rx={7}
        ry={7}
        fill="#ffffff"
        fillOpacity={0.8}
        stroke="#cccccc"
        strokeOpacity={0.8}
        strokeWidth={2.78}
      />
      <line x1={1601} x2={1686} y1={146} y2={146} stroke="#0000ff" strokeWidth={10.4} />
      <text x={1714} y={160} fontSize={LABEL_FS} fill="#000">
        all classes 1.00 at 1.000
      </text>

      {/* watermark */}
      <text x={1636} y={1476} fontSize={43} fill="#bdbdbd" fontFamily={WM_FONT} textLength={600} lengthAdjust="spacingAndGlyphs">
        CSDN @斌擎人工智能官方账号
      </text>
      <text x={1634} y={1474} fontSize={43} fill="#e4e4e4" fontFamily={WM_FONT} textLength={600} lengthAdjust="spacingAndGlyphs">
        CSDN @斌擎人工智能官方账号
      </text>
    </svg>
  );
}
